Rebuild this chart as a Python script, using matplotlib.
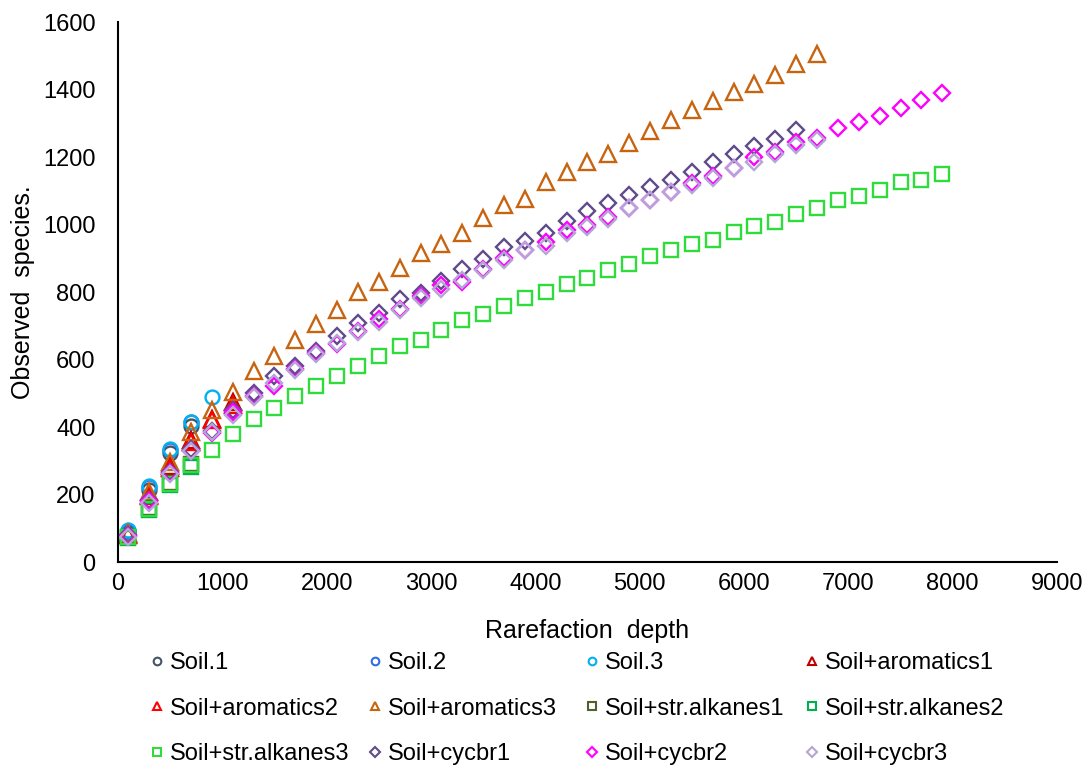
import matplotlib.pyplot as plt
from matplotlib.lines import Line2D

plt.rcParams['font.family'] = ['Liberation Sans', 'DejaVu Sans']

# rarefaction depths (sampled every 200)
depth_short = [100, 300, 500, 700]
depth_900 = [100, 300, 500, 700, 900]
depth_1100 = [100, 300, 500, 700, 900, 1100]
depth_6500 = list(range(100, 6501, 200))
depth_6700 = list(range(100, 6701, 200))
depth_7900 = list(range(100, 7901, 200))

# observed species
soil1 = [88, 215, 325, 405]
soil2 = [92, 222, 333, 415]
soil3 = [95, 225, 335, 415, 489]
arom1 = [85, 200, 285, 362, 424, 474]
arom2 = [82, 195, 280, 355, 420, 465]
arom3 = [88, 207, 296, 385, 450, 504, 566, 610, 658, 705, 747, 800, 830, 871,
         916, 942, 975, 1019, 1058, 1076, 1126, 1156, 1185, 1209, 1242, 1278,
         1310, 1340, 1366, 1393, 1418, 1443, 1476, 1505]
alk1 = [75, 160, 235, 292]
alk2 = [72, 155, 230, 283]
alk3 = [75, 158, 232, 287, 332, 379, 424, 456, 492, 521, 551, 581, 610, 640,
        658, 687, 717, 735, 758, 782, 800, 824, 842, 865, 883, 907, 924, 942,
        954, 978, 996, 1007, 1031, 1049, 1072, 1084, 1102, 1126, 1132, 1150]
cyc1 = [80, 185, 268, 335, 390, 450, 500, 551, 581, 625, 670, 708, 738, 779,
        797, 833, 868, 898, 933, 951, 975, 1010, 1040, 1064, 1087, 1111, 1132,
        1156, 1185, 1209, 1233, 1253, 1280]
cyc2 = [78, 180, 265, 330, 382, 445, 493, 521, 572, 620, 646, 684, 720, 750,
        788, 821, 830, 868, 900, 926, 948, 984, 998, 1022, 1050, 1074, 1098,
        1123, 1144, 1168, 1200, 1215, 1244, 1256, 1286, 1304, 1321, 1345, 1369,
        1390]
cyc3 = [75, 175, 262, 330, 385, 435, 489, 530, 569, 616, 649, 681, 711, 746,
        782, 811, 835, 865, 895, 924, 936, 975, 993, 1018, 1049, 1072, 1096,
        1117, 1138, 1167, 1185, 1209, 1235, 1250]

series = [
    ('Soil.1', depth_short, soil1, 'o', '#44546A'),
    ('Soil.2', depth_short, soil2, 'o', '#2E6FE0'),
    ('Soil.3', depth_900, soil3, 'o', '#00B0F0'),
    ('Soil+aromatics1', depth_1100, arom1, '^', '#C00000'),
    ('Soil+aromatics2', depth_1100, arom2, '^', '#FF0000'),
    ('Soil+aromatics3', depth_6700, arom3, '^', '#C8640F'),
    ('Soil+str.alkanes1', depth_short, alk1, 's', '#4F6228'),
    ('Soil+str.alkanes2', depth_short, alk2, 's', '#00B050'),
    ('Soil+str.alkanes3', depth_7900, alk3, 's', '#2FDC3C'),
    ('Soil+cycbr1', depth_6500, cyc1, 'D', '#5F4B8B'),
    ('Soil+cycbr2', depth_7900, cyc2, 'D', '#FF00FF'),
    ('Soil+cycbr3', depth_6700, cyc3, 'D', '#B4A7D6'),
]

fig = plt.figure(figsize=(10.92, 7.67), dpi=100)
ax = fig.add_axes([0.108, 0.267, 0.860, 0.704])

sizes = {'o': 10, '^': 11, 's': 10, 'D': 8.5}
for name, xs, ys, mk, col in series:
    ax.plot(xs, ys, linestyle='none', marker=mk, markersize=sizes[mk],
            markerfacecolor='none', markeredgecolor=col, markeredgewidth=1.7)

ax.set_xlim(0, 9000)
ax.set_ylim(0, 1600)
ax.set_xticks(range(0, 9001, 1000))
ax.set_yticks(range(0, 1601, 200))
ax.tick_params(length=0, labelsize=17)
ax.tick_params(axis='x', pad=8)
ax.tick_params(axis='y', pad=16)
for side in ['top', 'right']:
    ax.spines[side].set_visible(False)
for side in ['left', 'bottom']:
    ax.spines[side].set_linewidth(1.5)
    ax.spines[side].set_color('black')

ax.set_xlabel('Rarefaction  depth', fontsize=18, labelpad=17)
ax.set_ylabel('Observed  species.', fontsize=18, labelpad=6)

# legend: four columns, filled row by row like the original
col_x = [0.137, 0.337, 0.536, 0.737]
for c in range(4):
    handles = []
    for name, xs, ys, mk, col in series[c::4]:
        handles.append(Line2D([], [], linestyle='none', marker=mk,
                              markersize=sizes[mk] * 0.55, markerfacecolor='none',
                              markeredgecolor=col, markeredgewidth=1.5, label=name))
    leg = fig.legend(handles=handles, loc='upper left', bbox_to_anchor=(col_x[c], 0.150),
                     frameon=False, fontsize=17, handlelength=0.6, handletextpad=0.25,
                     labelspacing=1.0, borderpad=0, borderaxespad=0)

plt.savefig('out.png', dpi=100)
